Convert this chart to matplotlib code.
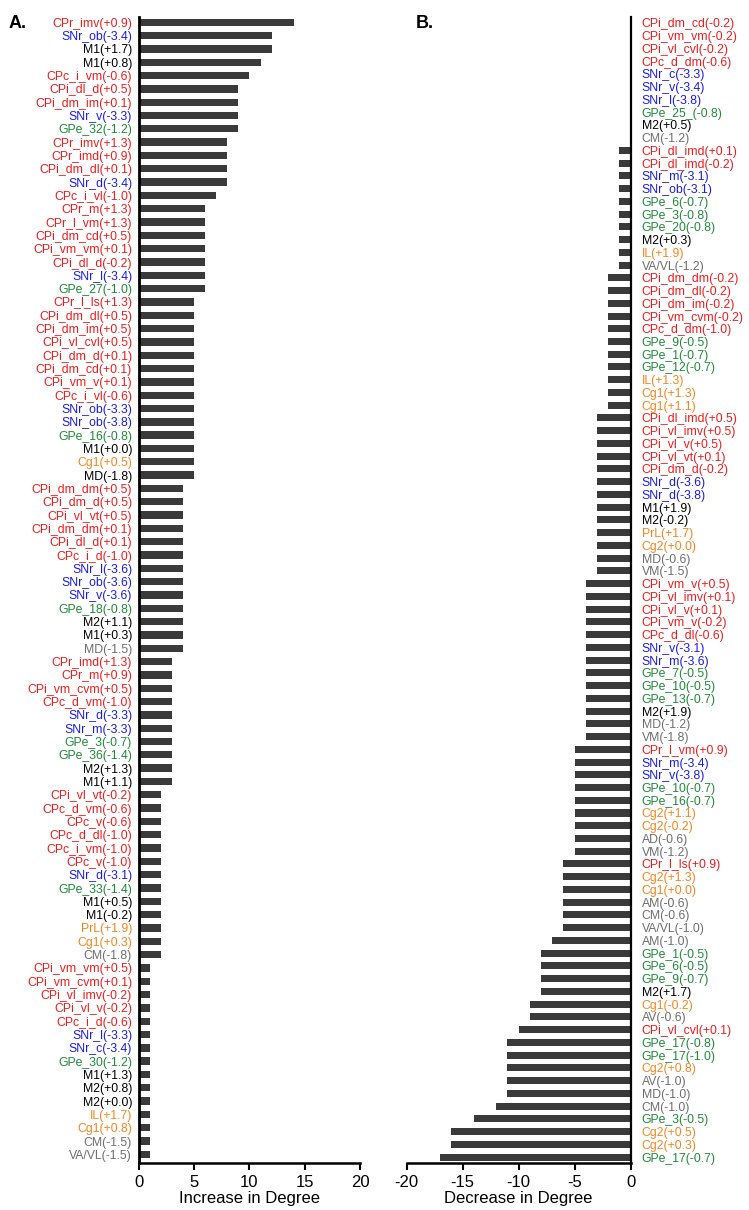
import matplotlib.pyplot as plt
import numpy as np

plt.rcParams['font.family'] = ['Liberation Sans', 'DejaVu Sans']
plt.rcParams['axes.unicode_minus'] = False

# Panel A: regions with increased degree
inc_labels = [
    'CPr_imv(+0.9)', 'SNr_ob(-3.4)', 'M1(+1.7)', 'M1(+0.8)', 'CPc_i_vm(-0.6)',
    'CPi_dl_d(+0.5)', 'CPi_dm_im(+0.1)', 'SNr_v(-3.3)', 'GPe_32(-1.2)', 'CPr_imv(+1.3)',
    'CPr_imd(+0.9)', 'CPi_dm_dl(+0.1)', 'SNr_d(-3.4)', 'CPc_i_vl(-1.0)', 'CPr_m(+1.3)',
    'CPr_l_vm(+1.3)', 'CPi_dm_cd(+0.5)', 'CPi_vm_vm(+0.1)', 'CPi_dl_d(-0.2)', 'SNr_l(-3.4)',
    'GPe_27(-1.0)', 'CPr_l_ls(+1.3)', 'CPi_dm_dl(+0.5)', 'CPi_dm_im(+0.5)', 'CPi_vl_cvl(+0.5)',
    'CPi_dm_d(+0.1)', 'CPi_dm_cd(+0.1)', 'CPi_vm_v(+0.1)', 'CPc_i_vl(-0.6)', 'SNr_ob(-3.3)',
    'SNr_ob(-3.8)', 'GPe_16(-0.8)', 'M1(+0.0)', 'Cg1(+0.5)', 'MD(-1.8)',
    'CPi_dm_dm(+0.5)', 'CPi_dm_d(+0.5)', 'CPi_vl_vt(+0.5)', 'CPi_dm_dm(+0.1)', 'CPi_dl_d(+0.1)',
    'CPc_i_d(-1.0)', 'SNr_l(-3.6)', 'SNr_ob(-3.6)', 'SNr_v(-3.6)', 'GPe_18(-0.8)',
    'M2(+1.1)', 'M1(+0.3)', 'MD(-1.5)', 'CPr_imd(+1.3)', 'CPr_m(+0.9)',
    'CPi_vm_cvm(+0.5)', 'CPc_d_vm(-1.0)', 'SNr_d(-3.3)', 'SNr_m(-3.3)', 'GPe_3(-0.7)',
    'GPe_36(-1.4)', 'M2(+1.3)', 'M1(+1.1)', 'CPi_vl_vt(-0.2)', 'CPc_d_vm(-0.6)',
    'CPc_v(-0.6)', 'CPc_d_dl(-1.0)', 'CPc_i_vm(-1.0)', 'CPc_v(-1.0)', 'SNr_d(-3.1)',
    'GPe_33(-1.4)', 'M1(+0.5)', 'M1(-0.2)', 'PrL(+1.9)', 'Cg1(+0.3)',
    'CM(-1.8)', 'CPi_vm_vm(+0.5)', 'CPi_vm_cvm(+0.1)', 'CPi_vl_imv(-0.2)', 'CPi_vl_v(-0.2)',
    'CPc_i_d(-0.6)', 'SNr_l(-3.3)', 'SNr_c(-3.4)', 'GPe_30(-1.2)', 'M1(+1.3)',
    'M2(+0.8)', 'M2(+0.0)', 'IL(+1.7)', 'Cg1(+0.8)', 'CM(-1.5)',
    'VA/VL(-1.5)',
]
inc_values = [
    14, 12, 12, 11, 10, 9, 9, 9, 9, 8,
    8, 8, 8, 7, 6, 6, 6, 6, 6, 6,
    6, 5, 5, 5, 5, 5, 5, 5, 5, 5,
    5, 5, 5, 5, 5, 4, 4, 4, 4, 4,
    4, 4, 4, 4, 4, 4, 4, 4, 3, 3,
    3, 3, 3, 3, 3, 3, 3, 3, 2, 2,
    2, 2, 2, 2, 2, 2, 2, 2, 2, 2,
    2, 1, 1, 1, 1, 1, 1, 1, 1, 1,
    1, 1, 1, 1, 1, 1,
]

# Panel B: regions with decreased degree
dec_labels = [
    'CPi_dm_cd(-0.2)', 'CPi_vm_vm(-0.2)', 'CPi_vl_cvl(-0.2)', 'CPc_d_dm(-0.6)', 'SNr_c(-3.3)',
    'SNr_v(-3.4)', 'SNr_l(-3.8)', 'GPe_25_(-0.8)', 'M2(+0.5)', 'CM(-1.2)',
    'CPi_dl_imd(+0.1)', 'CPi_dl_imd(-0.2)', 'SNr_m(-3.1)', 'SNr_ob(-3.1)', 'GPe_6(-0.7)',
    'GPe_3(-0.8)', 'GPe_20(-0.8)', 'M2(+0.3)', 'IL(+1.9)', 'VA/VL(-1.2)',
    'CPi_dm_dm(-0.2)', 'CPi_dm_dl(-0.2)', 'CPi_dm_im(-0.2)', 'CPi_vm_cvm(-0.2)', 'CPc_d_dm(-1.0)',
    'GPe_9(-0.5)', 'GPe_1(-0.7)', 'GPe_12(-0.7)', 'IL(+1.3)', 'Cg1(+1.3)',
    'Cg1(+1.1)', 'CPi_dl_imd(+0.5)', 'CPi_vl_imv(+0.5)', 'CPi_vl_v(+0.5)', 'CPi_vl_vt(+0.1)',
    'CPi_dm_d(-0.2)', 'SNr_d(-3.6)', 'SNr_d(-3.8)', 'M1(+1.9)', 'M2(-0.2)',
    'PrL(+1.7)', 'Cg2(+0.0)', 'MD(-0.6)', 'VM(-1.5)', 'CPi_vm_v(+0.5)',
    'CPi_vl_imv(+0.1)', 'CPi_vl_v(+0.1)', 'CPi_vm_v(-0.2)', 'CPc_d_dl(-0.6)', 'SNr_v(-3.1)',
    'SNr_m(-3.6)', 'GPe_7(-0.5)', 'GPe_10(-0.5)', 'GPe_13(-0.7)', 'M2(+1.9)',
    'MD(-1.2)', 'VM(-1.8)', 'CPr_l_vm(+0.9)', 'SNr_m(-3.4)', 'SNr_v(-3.8)',
    'GPe_10(-0.7)', 'GPe_16(-0.7)', 'Cg2(+1.1)', 'Cg2(-0.2)', 'AD(-0.6)',
    'VM(-1.2)', 'CPr_l_ls(+0.9)', 'Cg2(+1.3)', 'Cg1(+0.0)', 'AM(-0.6)',
    'CM(-0.6)', 'VA/VL(-1.0)', 'AM(-1.0)', 'GPe_1(-0.5)', 'GPe_6(-0.5)',
    'GPe_9(-0.7)', 'M2(+1.7)', 'Cg1(-0.2)', 'AV(-0.6)', 'CPi_vl_cvl(+0.1)',
    'GPe_17(-0.8)', 'GPe_17(-1.0)', 'Cg2(+0.8)', 'AV(-1.0)', 'MD(-1.0)',
    'CM(-1.0)', 'GPe_3(-0.5)', 'Cg2(+0.5)', 'Cg2(+0.3)', 'GPe_17(-0.7)',
]
dec_values = [
    0, 0, 0, 0, 0, 0, 0, 0, 0, 0,
    -1, -1, -1, -1, -1, -1, -1, -1, -1, -1,
    -2, -2, -2, -2, -2, -2, -2, -2, -2, -2,
    -2, -3, -3, -3, -3, -3, -3, -3, -3, -3,
    -3, -3, -3, -3, -4, -4, -4, -4, -4, -4,
    -4, -4, -4, -4, -4, -4, -4, -5, -5, -5,
    -5, -5, -5, -5, -5, -5, -6, -6, -6, -6,
    -6, -6, -7, -8, -8, -8, -8, -9, -9, -10,
    -11, -11, -11, -11, -11, -12, -14, -16, -16, -17,
]


def label_color(lab):
    if lab.startswith('CP'):
        return '#f01c1c'
    if lab.startswith('SNr'):
        return '#1c1ce6'
    if lab.startswith('GPe'):
        return '#1f8a3a'
    if lab.startswith('M1') or lab.startswith('M2'):
        return 'black'
    if lab.startswith(('Cg', 'PrL', 'IL')):
        return '#f7861e'
    return '#6e6e6e'


fig = plt.figure(figsize=(7.49, 12.1), dpi=100)
axA = fig.add_axes([0.1856, 0.0388, 0.2950, 0.9472])
axB = fig.add_axes([0.5430, 0.0388, 0.2990, 0.9472])

bar_color = '#3a3a3a'
lab_size = 8.8

# panel A
yA = np.arange(len(inc_labels))
axA.barh(yA, inc_values, height=0.55, color=bar_color)
axA.set_ylim(len(inc_labels) - 0.35, -0.4)
axA.set_xlim(0, 20)
axA.set_xticks([0, 5, 10, 15, 20])
axA.set_yticks(yA)
axA.set_yticklabels(inc_labels, fontsize=lab_size)
for t, lab in zip(axA.get_yticklabels(), inc_labels):
    t.set_color(label_color(lab))
axA.get_yticklabels()[inc_labels.index('MD(-1.8)')].set_color('black')
axA.tick_params(axis='y', length=0, pad=5)
axA.tick_params(axis='x', labelsize=12, length=5, width=1.5)
axA.spines['top'].set_visible(False)
axA.spines['right'].set_visible(False)
axA.spines['left'].set_linewidth(2)
axA.spines['bottom'].set_linewidth(1.8)
axA.set_xlabel('Increase in Degree', fontsize=12, labelpad=1)

# panel B
yB = np.arange(len(dec_labels))
axB.barh(yB, dec_values, height=0.55, color=bar_color)
axB.set_ylim(len(dec_labels) - 0.53, -0.47)
axB.set_xlim(-20, 0)
axB.set_xticks([-20, -15, -10, -5, 0])
axB.yaxis.tick_right()
axB.set_yticks(yB)
axB.set_yticklabels(dec_labels, fontsize=lab_size)
for t, lab in zip(axB.get_yticklabels(), dec_labels):
    t.set_color(label_color(lab))
axB.tick_params(axis='y', length=0, pad=8)
axB.tick_params(axis='x', labelsize=12, length=5, width=1.5)
axB.spines['top'].set_visible(False)
axB.spines['left'].set_visible(False)
axB.spines['right'].set_linewidth(1.6)
axB.spines['bottom'].set_linewidth(1.8)
axB.set_xlabel('Decrease in Degree', fontsize=12, labelpad=1)

fig.text(0.012, 0.988, 'A.', fontsize=13, fontweight='bold', va='top')
fig.text(0.555, 0.988, 'B.', fontsize=13, fontweight='bold', va='top')

fig.savefig('out.png', dpi=100)
